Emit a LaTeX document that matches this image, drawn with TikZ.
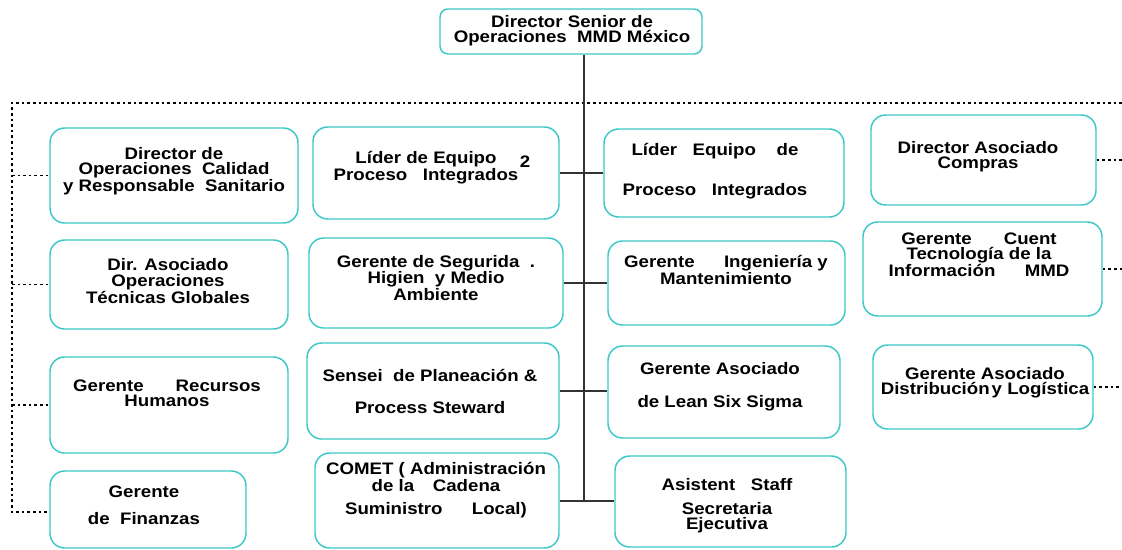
\documentclass[tikz,border=0pt]{standalone}
\usepackage{fontspec}
\setmainfont{Liberation Sans}[FakeStretch=1.12]
\usetikzlibrary{fit}
\definecolor{boxc}{HTML}{3CC8C8}
\definecolor{linec}{HTML}{333333}
\tikzset{
  box/.style={draw=boxc, line width=1.1pt, rounded corners=11pt, inner sep=0pt},
  topbox/.style={draw=boxc, line width=1.1pt, rounded corners=6pt, inner sep=0pt},
  txt/.style={align=center, font=\bfseries\fontsize{12.5}{11.5}\selectfont, inner sep=0pt, text=black},
  solidlink/.style={draw=linec, line width=1pt},
  dotlink/.style={draw=black, line width=0.8pt, dash pattern=on 2pt off 2.2pt}
}
\begin{document}
\begin{tikzpicture}[x=0.75pt,y=-0.75pt]
\useasboundingbox (0,0) rectangle (1122,550);
% boxes
\node[topbox, fit={(440,9) (702,54)}] (top) {};
\node[box, fit={(50,128) (298,223)}] (l1) {};
\node[box, fit={(50,240) (288,329)}] (l2) {};
\node[box, fit={(50,357) (288,453)}] (l3) {};
\node[box, fit={(50,471) (246,548)}] (l4) {};
\node[box, fit={(313,127) (559,219)}] (m1) {};
\node[box, fit={(309,238) (563,328)}] (m2) {};
\node[box, fit={(307,343) (559,439)}] (m3) {};
\node[box, fit={(315,453) (559,548)}] (m4) {};
\node[box, fit={(604,129) (844,217)}] (n1) {};
\node[box, fit={(608,241) (845,325)}] (n2) {};
\node[box, fit={(608,346) (840,438)}] (n3) {};
\node[box, fit={(615,456) (846,547)}] (n4) {};
\node[box, fit={(871,115) (1096,205)}] (r1) {};
\node[box, fit={(863,222) (1102,316)}] (r2) {};
\node[box, fit={(873,345) (1093,429)}] (r3) {};
% texts
\node[txt] (topt) at (572,31) {Director Senior de\\Operaciones\ \ MMD México};
\node[txt] (l1t) at (174,171) {Director de\\Operaciones\ \ Calidad\\y Responsable\ \ Sanitario};
\node[txt] (l2t) at (168,281) {Dir. Asociado\\Operaciones\\Técnicas Globales};
\node[txt] (l3t) at (167,393) {Gerente\hspace{24pt}Recursos\\Humanos};
\node[txt] (l4t) at (144,505) {Gerente\\[8.75pt]de\ \ Finanzas};
\node[txt] (m1t) at (426,168) {Líder de Equipo\\Proceso\ \ \ Integrados};
\node[txt] (m1s) at (525,162) {2};
\node[txt] (m2t) at (436,278) {Gerente de Segurida\ \ .\\Higien\ \ y Medio\\Ambiente};
\node[txt] (m3t) at (430,391) {Sensei\ \ de Planeación \&\\[12.5pt]Process Steward};
\node[txt] (m4t) at (436,490) {COMET ( Administración\\de la\hspace{14pt}Cadena\\[5.75pt]Suministro\hspace{22pt}Local)};
\node[txt] (n1t) at (715,171) {Líder\ \ \ Equipo\ \ \ \ de\\[17pt]Proceso\ \ \ Integrados};
\node[txt] (n2t) at (726,270) {Gerente\hspace{22pt}Ingeniería y\\Mantenimiento};
\node[txt] (n3t) at (720,387) {Gerente\ Asociado\\[13.25pt]de Lean Six Sigma};
\node[txt] (n4t) at (727,506) {Asistent\ \ \ Staff\\[6.5pt]Secretaria\\Ejecutiva};
\node[txt] (r1t) at (978,157) {Director\ Asociado\\Compras};
\node[txt] (r2t) at (979,255) {Gerente\hspace{24pt}Cuent\\Tecnología\ de la\\Información\hspace{22pt}MMD};
\node[txt] (r3t) at (985,383) {Gerente\ Asociado\\Distribución\hspace{1.5pt}y Logística};
% coordinates for dotted frame
\coordinate (dtl) at (12,103);
\coordinate (dtr) at (1122,103);
\coordinate (dbl) at (12,512);
\coordinate (trunkend) at (584,501);
\coordinate (r1e) at (1122,160);
\coordinate (r2e) at (1122,269);
\coordinate (r3e) at (1122,387);
% dotted lines
\draw[dotlink] (dtr) -- (dtl) -- (dbl) -- (dbl -| l4.west);
\draw[dotlink] (dtl |- l1.west) -- (l1.west);
\draw[dotlink] (dtl |- l2.west) -- (l2.west);
\draw[dotlink] (dtl |- l3.west) -- (l3.west);
\draw[dotlink] (r1.east) -- (r1e);
\draw[dotlink] (r2.east) -- (r2e);
\draw[dotlink] (r3.east) -- (r3e);
% solid lines
\draw[solidlink] (top.south -| trunkend) -- (trunkend);
\draw[solidlink] (m1.east) -- (m1.east -| n1.west);
\draw[solidlink] (m2.east) -- (m2.east -| n2.west);
\draw[solidlink] (m3.east) -- (m3.east -| n3.west);
\draw[solidlink] (m4.east |- trunkend) -- (trunkend -| n4.west);
\end{tikzpicture}
\end{document}
